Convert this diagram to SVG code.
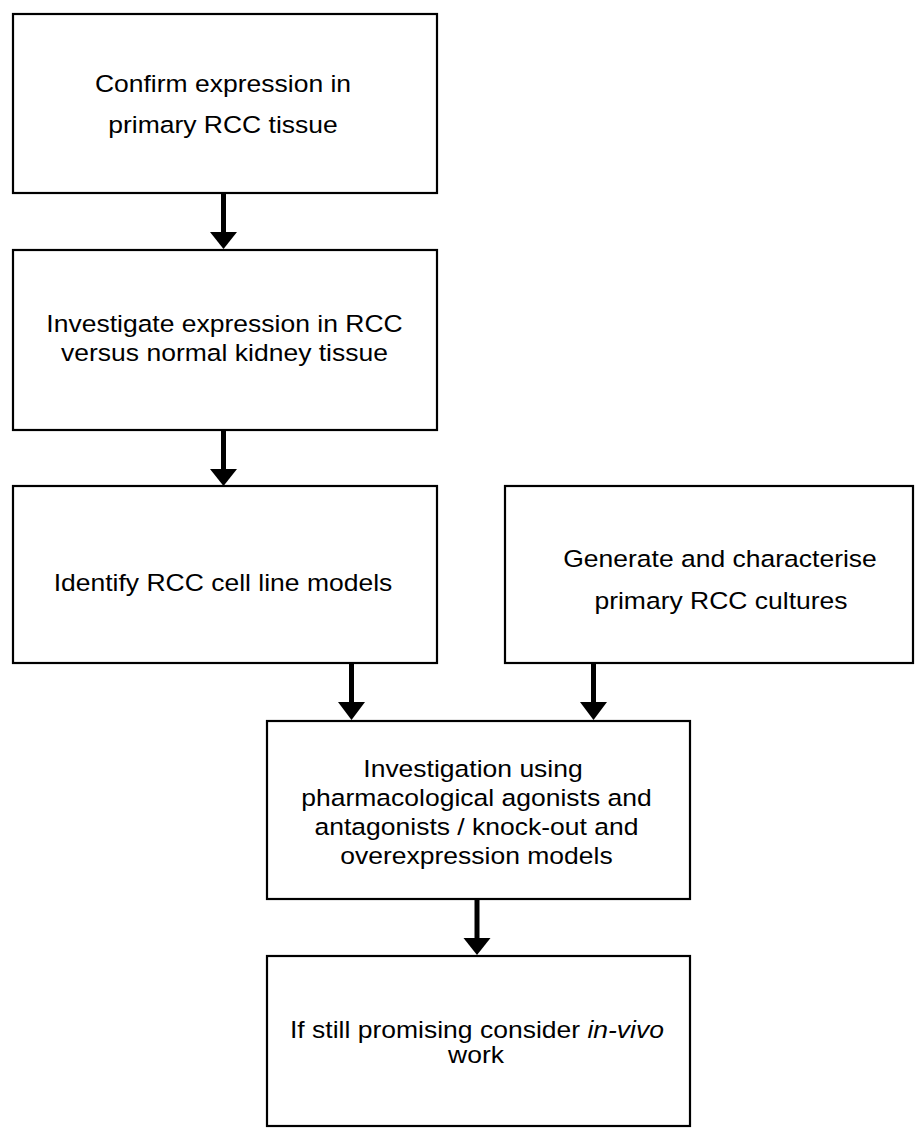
<svg xmlns="http://www.w3.org/2000/svg" width="915" height="1128" viewBox="0 0 915 1128">
<style>
.box{fill:#fff;stroke:#000;stroke-width:2.2}
.t{font-family:"Liberation Sans",Arial,sans-serif;font-size:26.5px;fill:#000;text-anchor:middle}
.shaft{stroke:#000;stroke-width:5;fill:none}
.head{fill:#000}
</style>
<rect width="915" height="1128" fill="#fff"/>
<g id="connectors">
  <line class="shaft" x1="223.5" y1="194" x2="223.5" y2="233"/>
  <polygon class="head" points="210,232 237,232 223.5,249"/>
  <line class="shaft" x1="223.5" y1="431" x2="223.5" y2="470"/>
  <polygon class="head" points="210,469 237,469 223.5,486"/>
  <line class="shaft" x1="351.5" y1="664" x2="351.5" y2="703"/>
  <polygon class="head" points="338,702 365,702 351.5,720"/>
  <line class="shaft" x1="593.5" y1="664" x2="593.5" y2="703"/>
  <polygon class="head" points="580,702 607,702 593.5,720"/>
  <line class="shaft" x1="477" y1="900" x2="477" y2="939"/>
  <polygon class="head" points="463.5,938 490.5,938 477,955"/>
</g>
<g id="n1">
  <rect class="box" x="13" y="14" width="424" height="179"/>
  <text class="t" transform="translate(223,92) scale(1,0.88)">Confirm expression in</text>
  <text class="t" transform="translate(223,133) scale(1,0.88)">primary RCC tissue</text>
</g>
<g id="n2">
  <rect class="box" x="13" y="250" width="424" height="180"/>
  <text class="t" transform="translate(224.5,332) scale(1,0.88)">Investigate expression in RCC</text>
  <text class="t" transform="translate(224.5,361) scale(1,0.88)">versus normal kidney tissue</text>
</g>
<g id="n3">
  <rect class="box" x="13" y="486" width="424" height="177"/>
  <text class="t" transform="translate(223,591) scale(1,0.88)">Identify RCC cell line models</text>
</g>
<g id="n4">
  <rect class="box" x="505" y="486" width="408" height="177"/>
  <text class="t" transform="translate(720,567) scale(1,0.88)">Generate and characterise</text>
  <text class="t" transform="translate(721,609) scale(1,0.88)">primary RCC cultures</text>
</g>
<g id="n5">
  <rect class="box" x="267" y="721" width="423" height="178"/>
  <text class="t" transform="translate(473,777) scale(1,0.88)">Investigation using</text>
  <text class="t" transform="translate(476.5,806) scale(1,0.88)">pharmacological agonists and</text>
  <text class="t" transform="translate(476.5,835) scale(1,0.88)">antagonists / knock-out and</text>
  <text class="t" transform="translate(476.5,864) scale(1,0.88)">overexpression models</text>
</g>
<g id="n6">
  <rect class="box" x="267" y="956" width="423" height="170"/>
  <text class="t" transform="translate(477,1038) scale(1,0.88)">If still promising consider <tspan font-style="italic">in-vivo</tspan></text>
  <text class="t" transform="translate(476,1063) scale(1,0.88)">work</text>
</g>
</svg>
